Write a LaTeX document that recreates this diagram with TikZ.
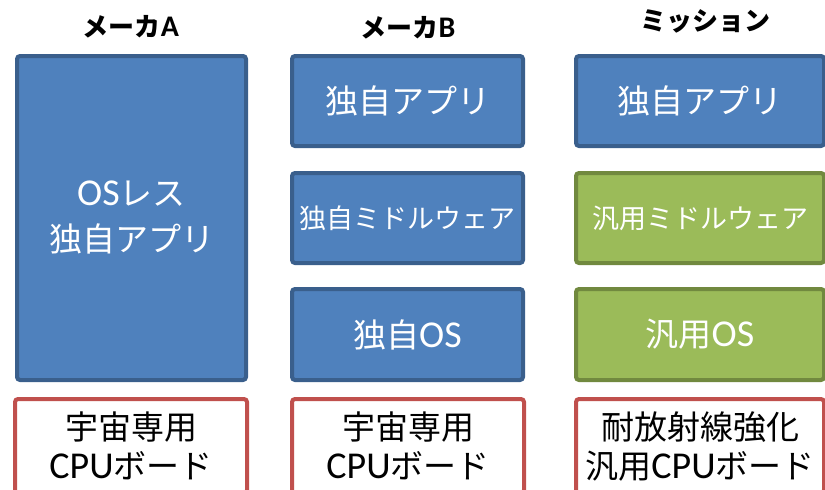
\documentclass[tikz,border=0pt]{standalone}
\usepackage{fontspec}
\setmainfont{Noto Sans CJK JP}
\newfontfamily\lt[Scale=1.15]{Carlito}
\definecolor{bfill}{HTML}{4F81BD}
\definecolor{bdr}{HTML}{3A5F8C}
\definecolor{gfill}{HTML}{9BBB59}
\definecolor{gdr}{HTML}{71893F}
\definecolor{rdr}{HTML}{C0504D}
\begin{document}
\begin{tikzpicture}[x=1pt,y=-1pt,
  blu/.style={draw=bdr, fill=bfill, line width=4pt, rounded corners=3pt, text=white, inner sep=0pt, align=center},
  grn/.style={draw=gdr, fill=gfill, line width=4pt, rounded corners=3pt, text=white, inner sep=0pt, align=center},
  red/.style={draw=rdr, fill=white, line width=4pt, rounded corners=3pt, text=black, inner sep=0pt, align=center, minimum height=94pt, font=\fontsize{33}{39}\selectfont},
  ttl/.style={font=\fontsize{26}{30}\selectfont\bfseries, inner sep=0pt},
  big/.style={font=\fontsize{33}{46}\selectfont},
  mid/.style={font=\fontsize{27}{32}\selectfont}]
\useasboundingbox (0,0) rectangle (825,490);
\clip (0,0) rectangle (825,490);
% titles
\node[ttl] (ta) at (131,27) {メーカ{\lt A}};
\node[ttl] (tb) at (408,28) {メーカ{\lt B}};
\node[ttl] (tc) at (705,21) {ミッション};
% maker A
\node[blu, big, minimum width=229pt, minimum height=324pt] (a1) at (131.5,218) {{\lt OS}レス\\独自アプリ};
% maker B
\node[blu, big, minimum width=231pt, minimum height=90pt] (b1) at (407.5,101) {独自アプリ};
\node[blu, mid, minimum width=231pt, minimum height=90pt] (b2) at (407.5,218) {独自ミドルウェア};
\node[blu, big, minimum width=231pt, minimum height=91pt] (b3) at (407.5,334.5) {独自{\lt OS}};
% mission
\node[blu, big, minimum width=248pt, minimum height=90pt] (c1) at (700,101) {独自アプリ};
\node[grn, mid, minimum width=248pt, minimum height=90pt] (c2) at (700,218) {汎用ミドルウェア};
\node[grn, big, minimum width=248pt, minimum height=91pt] (c3) at (700,334.5) {汎用{\lt OS}};
% boards
\node[red, minimum width=232pt] (ra) at (131,446) {宇宙専用\\{\lt CPU}ボード};
\node[red, minimum width=232pt] (rb) at (408,446) {宇宙専用\\{\lt CPU}ボード};
\node[red, minimum width=248pt] (rc) at (700,446) {耐放射線強化\\汎用{\lt CPU}ボード};
\end{tikzpicture}
\end{document}
